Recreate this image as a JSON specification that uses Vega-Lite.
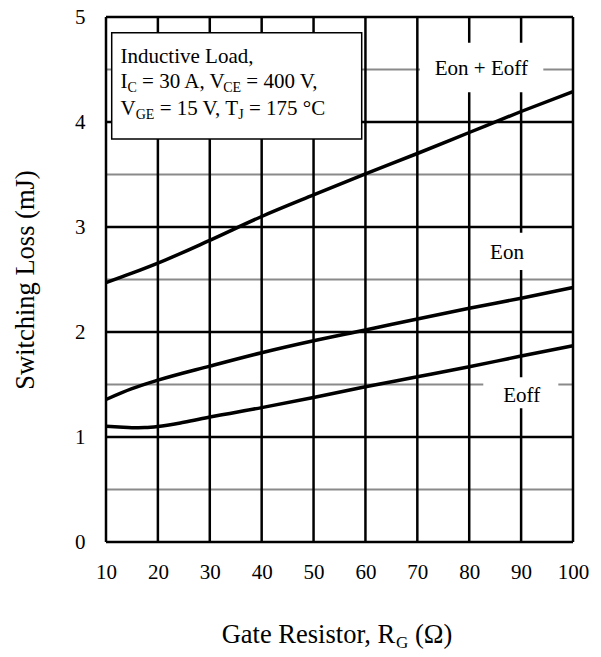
{
  "$schema": "https://vega.github.io/schema/vega-lite/v6.json",
  "width": 467,
  "height": 525,
  "autosize": {"type": "none"},
  "padding": {"left": 106, "top": 17, "right": 28, "bottom": 115},
  "background": "white",
  "config": {
    "view": {"stroke": null},
    "font": "Liberation Serif",
    "text": {"font": "Liberation Serif", "color": "black"},
    "axis": {
      "labelFont": "Liberation Serif", "labelFontSize": 21, "labelColor": "black",
      "labelFontWeight": "normal",
      "titleFont": "Liberation Serif", "titleFontSize": 26.5, "titleFontWeight": "normal",
      "titleColor": "black",
      "grid": false, "ticks": false, "domain": false
    }
  },
  "datasets": {
    "hgray": [{"y": 0.5}, {"y": 1.5}, {"y": 2.5}, {"y": 3.5}, {"y": 4.5}],
    "hblack": [{"y": 0}, {"y": 1}, {"y": 2}, {"y": 3}, {"y": 4}, {"y": 5}],
    "vblack": [{"x": 10}, {"x": 20}, {"x": 30}, {"x": 40}, {"x": 50}, {"x": 60}, {"x": 70}, {"x": 80}, {"x": 90}, {"x": 100}],
    "gaps": [
      {"x": 70.51, "x2": 94.28, "y": 4.755, "y2": 4.283},
      {"x": 80.92, "x2": 93.64, "y": 2.946, "y2": 2.59},
      {"x": 82.71, "x2": 97.17, "y": 1.569, "y2": 1.273}
    ],
    "box": [{"x": 11.1, "x2": 59.28, "y": 4.85, "y2": 3.838}],
    "curves": [
      {"series": "Eon + Eoff", "x": 10, "y": 2.47},
      {"series": "Eon + Eoff", "x": 15, "y": 2.56},
      {"series": "Eon + Eoff", "x": 20, "y": 2.656},
      {"series": "Eon + Eoff", "x": 30, "y": 2.873},
      {"series": "Eon + Eoff", "x": 40, "y": 3.1},
      {"series": "Eon + Eoff", "x": 50, "y": 3.305},
      {"series": "Eon + Eoff", "x": 60, "y": 3.505},
      {"series": "Eon + Eoff", "x": 70, "y": 3.7},
      {"series": "Eon + Eoff", "x": 80, "y": 3.9},
      {"series": "Eon + Eoff", "x": 90, "y": 4.1},
      {"series": "Eon + Eoff", "x": 100, "y": 4.29},
      {"series": "Eon", "x": 10, "y": 1.357},
      {"series": "Eon", "x": 15, "y": 1.46},
      {"series": "Eon", "x": 20, "y": 1.541},
      {"series": "Eon", "x": 30, "y": 1.675},
      {"series": "Eon", "x": 40, "y": 1.803},
      {"series": "Eon", "x": 50, "y": 1.917},
      {"series": "Eon", "x": 60, "y": 2.019},
      {"series": "Eon", "x": 70, "y": 2.124},
      {"series": "Eon", "x": 80, "y": 2.226},
      {"series": "Eon", "x": 90, "y": 2.322},
      {"series": "Eon", "x": 100, "y": 2.424},
      {"series": "Eoff", "x": 10, "y": 1.102},
      {"series": "Eoff", "x": 12.5, "y": 1.095},
      {"series": "Eoff", "x": 15, "y": 1.088},
      {"series": "Eoff", "x": 17.5, "y": 1.09},
      {"series": "Eoff", "x": 20, "y": 1.1},
      {"series": "Eoff", "x": 25, "y": 1.14},
      {"series": "Eoff", "x": 30, "y": 1.19},
      {"series": "Eoff", "x": 40, "y": 1.28},
      {"series": "Eoff", "x": 50, "y": 1.376},
      {"series": "Eoff", "x": 60, "y": 1.478},
      {"series": "Eoff", "x": 70, "y": 1.573},
      {"series": "Eoff", "x": 80, "y": 1.669},
      {"series": "Eoff", "x": 90, "y": 1.771},
      {"series": "Eoff", "x": 100, "y": 1.869}
    ],
    "curveLabels": [
      {"t": "Eon + Eoff", "x": 82.33, "y": 4.448},
      {"t": "Eon", "x": 87.28, "y": 2.692},
      {"t": "Eoff", "x": 90.11, "y": 1.336}
    ],
    "annMain": [
      {"t": "Inductive Load,", "x": 12.794, "y": 4.565},
      {"t": "I", "x": 12.794, "y": 4.321},
      {"t": "= 30 A, V", "x": 16.948, "y": 4.321},
      {"t": "= 400 V,", "x": 37.05, "y": 4.321},
      {"t": "V", "x": 12.794, "y": 4.062},
      {"t": "= 15 V, T", "x": 20.339, "y": 4.062},
      {"t": "= 175 °C", "x": 37.55, "y": 4.062}
    ],
    "annSub": [
      {"t": "C", "x": 14.143, "y": 4.283},
      {"t": "CE", "x": 32.59, "y": 4.283},
      {"t": "GE", "x": 15.724, "y": 4.024},
      {"t": "J", "x": 35.5, "y": 4.024}
    ],
    "titleMain": [
      {"t": "Gate Resistor, R", "x": 32.297, "y": -0.962},
      {"t": "(Ω)", "x": 69.55, "y": -0.962}
    ],
    "titleSub": [
      {"t": "G", "x": 65.908, "y": -1.005}
    ]
  },
  "layer": [
    {
      "data": {"name": "hgray"},
      "mark": {"type": "rule", "color": "#8a8a8a", "strokeWidth": 2},
      "encoding": {
        "y": {
          "field": "y", "type": "quantitative",
          "scale": {"domain": [0, 5], "nice": false, "zero": false},
          "axis": {
            "values": [0, 1, 2, 3, 4, 5],
            "format": "d",
            "labelFont": "Liberation Serif",
            "labelPadding": 21, "labelBaseline": "middle",
            "title": "Switching Loss (mJ)",
            "titleFont": "Liberation Serif", "titleFontWeight": "normal",
            "titlePadding": 35
          }
        }
      }
    },
    {
      "data": {"name": "hblack"},
      "mark": {"type": "rule", "color": "black", "strokeWidth": 2.5},
      "encoding": {
        "y": {"field": "y", "type": "quantitative", "scale": {"domain": [0, 5], "nice": false, "zero": false}}
      }
    },
    {
      "data": {"name": "vblack"},
      "mark": {"type": "rule", "color": "black", "strokeWidth": 2.5},
      "encoding": {
        "x": {
          "field": "x", "type": "quantitative",
          "scale": {"domain": [10, 100], "nice": false, "zero": false},
          "axis": {
            "values": [10, 20, 30, 40, 50, 60, 70, 80, 90, 100],
            "format": "d",
            "labelFont": "Liberation Serif",
            "labelPadding": 19, "labelFlush": false, "labelOverlap": false, "labelBound": false,
            "title": null
          }
        }
      }
    },
    {
      "data": {"name": "gaps"},
      "mark": {"type": "rect", "fill": "white"},
      "encoding": {
        "x": {"field": "x", "type": "quantitative", "scale": {"domain": [10, 100], "nice": false, "zero": false}},
        "x2": {"field": "x2"},
        "y": {"field": "y", "type": "quantitative", "scale": {"domain": [0, 5], "nice": false, "zero": false}},
        "y2": {"field": "y2"}
      }
    },
    {
      "data": {"name": "box"},
      "mark": {"type": "rect", "fill": "white", "stroke": "black", "strokeWidth": 1.5},
      "encoding": {
        "x": {"field": "x", "type": "quantitative", "scale": {"domain": [10, 100], "nice": false, "zero": false}},
        "x2": {"field": "x2"},
        "y": {"field": "y", "type": "quantitative", "scale": {"domain": [0, 5], "nice": false, "zero": false}},
        "y2": {"field": "y2"}
      }
    },
    {
      "data": {"name": "curves"},
      "mark": {"type": "line", "color": "black", "strokeWidth": 3.5, "interpolate": "monotone"},
      "encoding": {
        "x": {"field": "x", "type": "quantitative", "scale": {"domain": [10, 100], "nice": false, "zero": false}},
        "y": {"field": "y", "type": "quantitative", "scale": {"domain": [0, 5], "nice": false, "zero": false}},
        "detail": {"field": "series"}
      }
    },
    {
      "data": {"name": "curveLabels"},
      "mark": {"type": "text", "fontSize": 21, "align": "center", "baseline": "alphabetic", "font": "Liberation Serif", "color": "black"},
      "encoding": {
        "x": {"field": "x", "type": "quantitative", "scale": {"domain": [10, 100], "nice": false, "zero": false}},
        "y": {"field": "y", "type": "quantitative", "scale": {"domain": [0, 5], "nice": false, "zero": false}},
        "text": {"field": "t"}
      }
    },
    {
      "data": {"name": "annMain"},
      "mark": {"type": "text", "fontSize": 21, "align": "left", "baseline": "alphabetic", "font": "Liberation Serif", "color": "black"},
      "encoding": {
        "x": {"field": "x", "type": "quantitative", "scale": {"domain": [10, 100], "nice": false, "zero": false}},
        "y": {"field": "y", "type": "quantitative", "scale": {"domain": [0, 5], "nice": false, "zero": false}},
        "text": {"field": "t"}
      }
    },
    {
      "data": {"name": "annSub"},
      "mark": {"type": "text", "fontSize": 14, "align": "left", "baseline": "alphabetic", "font": "Liberation Serif", "color": "black"},
      "encoding": {
        "x": {"field": "x", "type": "quantitative", "scale": {"domain": [10, 100], "nice": false, "zero": false}},
        "y": {"field": "y", "type": "quantitative", "scale": {"domain": [0, 5], "nice": false, "zero": false}},
        "text": {"field": "t"}
      }
    },
    {
      "data": {"name": "titleMain"},
      "mark": {"type": "text", "fontSize": 26.5, "align": "left", "baseline": "alphabetic", "font": "Liberation Serif", "color": "black"},
      "encoding": {
        "x": {"field": "x", "type": "quantitative", "scale": {"domain": [10, 100], "nice": false, "zero": false}},
        "y": {"field": "y", "type": "quantitative", "scale": {"domain": [0, 5], "nice": false, "zero": false}},
        "text": {"field": "t"}
      }
    },
    {
      "data": {"name": "titleSub"},
      "mark": {"type": "text", "fontSize": 17, "align": "left", "baseline": "alphabetic", "font": "Liberation Serif", "color": "black"},
      "encoding": {
        "x": {"field": "x", "type": "quantitative", "scale": {"domain": [10, 100], "nice": false, "zero": false}},
        "y": {"field": "y", "type": "quantitative", "scale": {"domain": [0, 5], "nice": false, "zero": false}},
        "text": {"field": "t"}
      }
    }
  ]
}
